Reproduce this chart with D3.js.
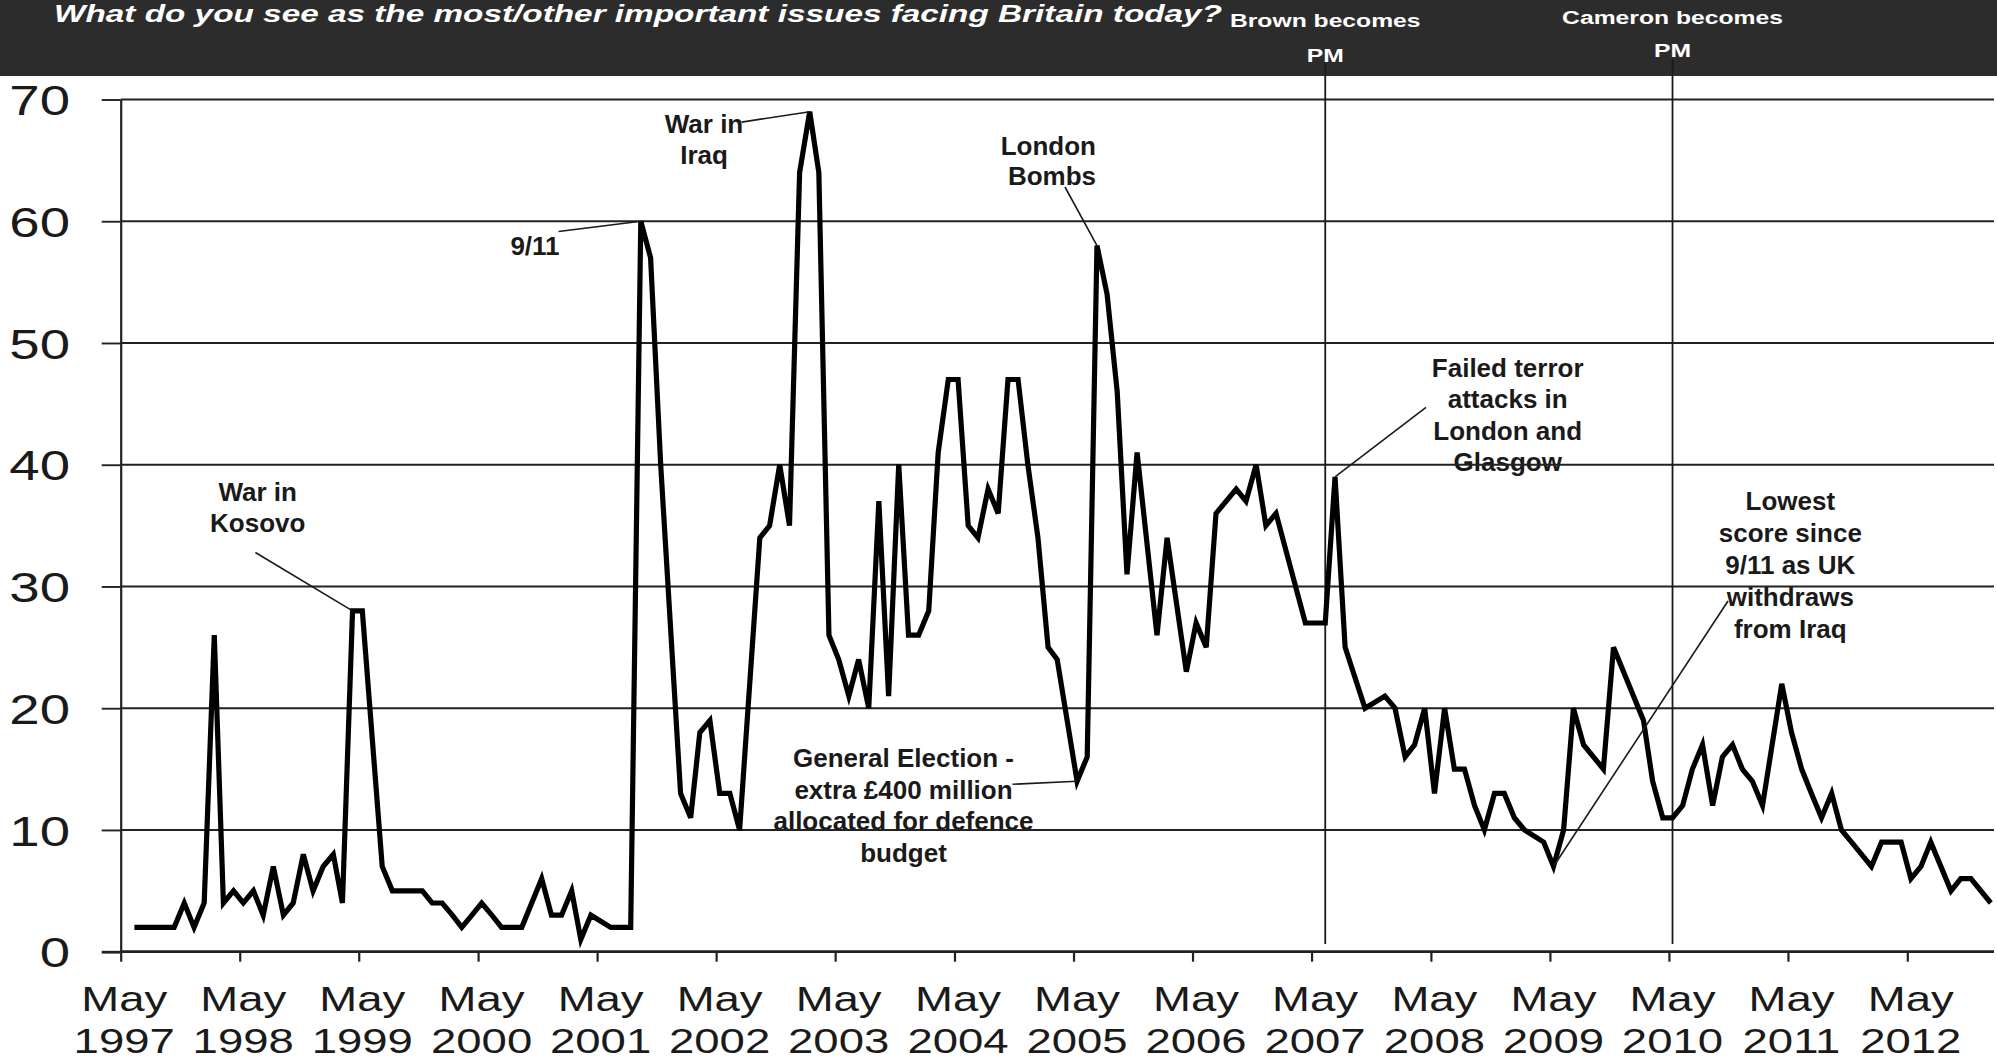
<!DOCTYPE html>
<html><head><meta charset="utf-8">
<script src="https://cdn.jsdelivr.net/npm/d3@7"></script>
<style>html,body{margin:0;padding:0;background:#fff;overflow:hidden}</style>
</head><body>
<svg id="chart" width="1997" height="1060"></svg>
<script>
// ---------------- DATA ----------------
const chartTitle = "What do you see as the most/other important issues facing Britain today?";

const months = [
 "1997-06","1997-07","1997-08","1997-09","1997-10","1997-11","1997-12",
 "1998-01","1998-02","1998-03","1998-04","1998-05","1998-06","1998-07","1998-08","1998-09","1998-10","1998-11","1998-12",
 "1999-01","1999-02","1999-03","1999-04","1999-05","1999-07","1999-08","1999-09","1999-10","1999-11","1999-12",
 "2000-01","2000-02","2000-03","2000-04","2000-05","2000-06","2000-07","2000-08","2000-09","2000-11","2000-12",
 "2001-01","2001-02","2001-03","2001-04","2001-06","2001-07","2001-08","2001-09","2001-10","2001-11",
 "2002-01","2002-02","2002-03","2002-04","2002-05","2002-06","2002-07","2002-09","2002-10","2002-11","2002-12",
 "2003-01","2003-02","2003-03","2003-04","2003-05","2003-06","2003-07","2003-08","2003-09","2003-10","2003-11","2003-12",
 "2004-01","2004-02","2004-03","2004-04","2004-05","2004-06","2004-07","2004-08","2004-09","2004-10","2004-11","2004-12",
 "2005-01","2005-02","2005-03","2005-05","2005-06","2005-07","2005-08","2005-09","2005-10","2005-11",
 "2006-01","2006-02","2006-04","2006-05","2006-06","2006-07","2006-09","2006-10","2006-11","2006-12",
 "2007-01","2007-04","2007-05","2007-06","2007-07","2007-08","2007-10","2007-12",
 "2008-01","2008-02","2008-03","2008-04","2008-05","2008-06","2008-07","2008-08","2008-09","2008-10","2008-11","2008-12",
 "2009-01","2009-02","2009-04","2009-05","2009-06","2009-07","2009-08","2009-10","2009-11",
 "2010-02","2010-03","2010-04","2010-05","2010-06","2010-07","2010-08","2010-09","2010-10","2010-11","2010-12",
 "2011-01","2011-02","2011-04","2011-05","2011-06","2011-07","2011-08","2011-09","2011-10","2011-11",
 "2012-01","2012-02","2012-03","2012-04","2012-05","2012-06","2012-07","2012-09","2012-10","2012-11",
 "2013-01"
];
const values = [
 2,2,2,2,2,4,2,
 4,26,4,5,4,5,3,7,3,4,8,5,
 7,8,4,28,28,7,5,5,5,5,4,
 4,3,2,3,4,3,2,2,2,6,3,
 3,5,1,3,2,2,2,60,57,40,
 13,11,18,19,13,13,10,34,35,40,35,
 64,69,64,26,24,21,24,20,37,21,40,26,
 26,28,41,47,47,35,34,38,36,47,47,40,
 34,25,24,14,16,58,54,46,31,41,
 26,34,23,27,25,36,38,37,40,35,
 36,27,27,27,39,25,20,21,
 20,16,17,20,13,20,15,15,12,10,13,13,
 11,10,9,7,10,20,17,15,25,
 19,14,11,11,12,15,17,12,16,17,15,
 14,12,22,18,15,13,11,13,10,9,
 7,9,9,9,6,7,9,5,6,6,
 4
];

const yTickValues = [0,10,20,30,40,50,60,70];
const xTickYears = [1997,1998,1999,2000,2001,2002,2003,2004,2005,2006,2007,2008,2009,2010,2011,2012];
const xTickMonthLabel = "May";

const eventMonths = ["2007-06","2010-05"];
const eventLabels = [["Brown becomes","PM"],["Cameron becomes","PM"]];

const noteMonths = ["1999-04","2001-09","2003-02","2005-07","2005-05","2007-07","2009-05"];
const noteTexts = [
 ["War in","Kosovo"],
 ["9/11"],
 ["War in","Iraq"],
 ["London","Bombs"],
 ["General Election -","extra \u00a3400 million","allocated for defence","budget"],
 ["Failed terror","attacks in","London and","Glasgow"],
 ["Lowest","score since","9/11 as UK","withdraws","from Iraq"]
];

// ---------------- LAYOUT ----------------
const W = 1997, H = 1060;
const font = "'Liberation Sans', Arial, Helvetica, sans-serif";
const ink = "#1a1a1a";
const stretch = 1.3;   // horizontal stretch of the chart's own lettering

// label placement (layout only)
const noteLayout = [
 {x:257.7, y:500.9, lh:31,   anchor:"middle", lx:255.4, ly:552.5},
 {x:535,   y:255,   lh:31,   anchor:"middle", lx:558.6, ly:231.5},
 {x:704,   y:133.2, lh:30.5, anchor:"middle", lx:741.7, ly:122.1},
 {x:1096,  y:154.8, lh:30.5, anchor:"end",    lx:1065,  ly:187},
 {x:903.5, y:767.4, lh:31.4, anchor:"middle", lx:1012.5,ly:784.3},
 {x:1507.7,y:376.9, lh:31.5, anchor:"middle", lx:1426,  ly:407.3},
 {x:1790.3,y:510.4, lh:31.9, anchor:"middle", lx:1728,  ly:601}
];
const eventLayout = [
 {y1:27.3, y2:61.7, top:63},
 {y1:24,   y2:57.3, top:59}
];

const parseMonth = s => { const [yy, mm] = s.split("-").map(Number); return new Date(yy, mm - 1, 12); };

const x = d3.scaleTime()
  .domain([new Date(1997, 4, 1), new Date(2012, 4, 1)])
  .range([120.7, 1907.3]);
const y = d3.scaleLinear().domain([0, 70]).range([951.7, 99.5]);

const svg = d3.select("#chart");
svg.append("rect").attr("x",0).attr("y",0).attr("width",W).attr("height",H).attr("fill","#ffffff");

// header band
svg.append("rect").attr("x",0).attr("y",0).attr("width",W).attr("height",76).attr("fill","#2c2c2c");
svg.append("text")
  .attr("x",54).attr("y",22)
  .attr("font-family",font).attr("font-size",23).attr("font-weight","bold").attr("font-style","italic")
  .attr("fill","#ffffff")
  .attr("textLength",1168).attr("lengthAdjust","spacingAndGlyphs")
  .text(chartTitle);

// annotation texts (under the grid, like the original)
const notesG = svg.append("g");
noteTexts.forEach((lines, i) => {
  const L = noteLayout[i];
  const t = notesG.append("text")
    .attr("font-family",font).attr("font-size",26).attr("font-weight","bold")
    .attr("fill",ink).attr("text-anchor",L.anchor);
  lines.forEach((ln, j) => {
    t.append("tspan").attr("x",L.x).attr("y",L.y + j*L.lh).text(ln);
  });
});

// gridlines
svg.append("g").selectAll("line").data(yTickValues).join("line")
  .attr("x1",120.7).attr("x2",1994)
  .attr("y1",d=>y(d)).attr("y2",d=>y(d))
  .attr("stroke","#222").attr("stroke-width",d=>d===0?2.8:1.9);

// y axis
const yAxis = svg.append("g").attr("transform","translate(120.7,0)")
  .call(d3.axisLeft(y).tickValues(yTickValues).tickSize(19).tickSizeOuter(0).tickPadding(20));
yAxis.select(".domain").attr("stroke","#222").attr("stroke-width",2.2);
yAxis.selectAll(".tick line").attr("stroke","#222").attr("stroke-width",d=>d===0?2.8:1.9);
yAxis.selectAll(".tick text")
  .attr("x",-39).attr("dy","0.36em")
  .attr("font-family",font).attr("font-size",42).attr("fill",ink)
  .attr("transform",`scale(${stretch},1)`);

// x axis
const xTickDates = xTickYears.map(yr => new Date(yr, 4, 1));
const xAxis = svg.append("g").attr("transform","translate(0,951.7)")
  .call(d3.axisBottom(x).tickValues(xTickDates).tickSize(10).tickSizeOuter(0).tickFormat(""));
xAxis.select(".domain").remove();
xAxis.selectAll(".tick line").attr("stroke","#222").attr("stroke-width",2.2);
xAxis.selectAll(".tick").each(function(d){
  const g = d3.select(this);
  g.append("text").attr("y",59).attr("text-anchor","middle")
    .attr("font-family",font).attr("font-size",35).attr("fill",ink)
    .attr("transform",`translate(3,0) scale(${stretch},1)`).text(xTickMonthLabel);
  g.append("text").attr("y",101.6).attr("text-anchor","middle")
    .attr("font-family",font).attr("font-size",35).attr("fill",ink)
    .attr("transform",`translate(3,0) scale(${stretch},1)`).text(d.getFullYear());
});

// event lines + labels
eventMonths.forEach((m, i) => {
  const ex = x(parseMonth(m));
  const L = eventLayout[i];
  svg.append("line").attr("x1",ex).attr("x2",ex).attr("y1",L.top).attr("y2",944)
    .attr("stroke",ink).attr("stroke-width",1.8);
  [L.y1, L.y2].forEach((yy, j) => {
    svg.append("text")
      .attr("transform",`translate(${ex},${yy}) scale(${stretch},1)`)
      .attr("text-anchor","middle")
      .attr("font-family",font).attr("font-size",19).attr("font-weight","bold")
      .attr("fill","#ffffff").text(eventLabels[i][j]);
  });
});

// data line
const pts = months.map((m, i) => ({date: parseMonth(m), v: values[i]}));
svg.append("path").datum(pts)
  .attr("fill","none").attr("stroke","#000").attr("stroke-width",5.2)
  .attr("stroke-linejoin","miter").attr("stroke-miterlimit",4)
  .attr("d", d3.line().x(d=>x(d.date)).y(d=>y(d.v)));

// leader lines
noteMonths.forEach((m, i) => {
  const idx = months.indexOf(m);
  const L = noteLayout[i];
  svg.append("line")
    .attr("x1",L.lx).attr("y1",L.ly)
    .attr("x2",x(parseMonth(m))).attr("y2",y(values[idx]))
    .attr("stroke",ink).attr("stroke-width",1.6);
});
</script>
</body></html>
